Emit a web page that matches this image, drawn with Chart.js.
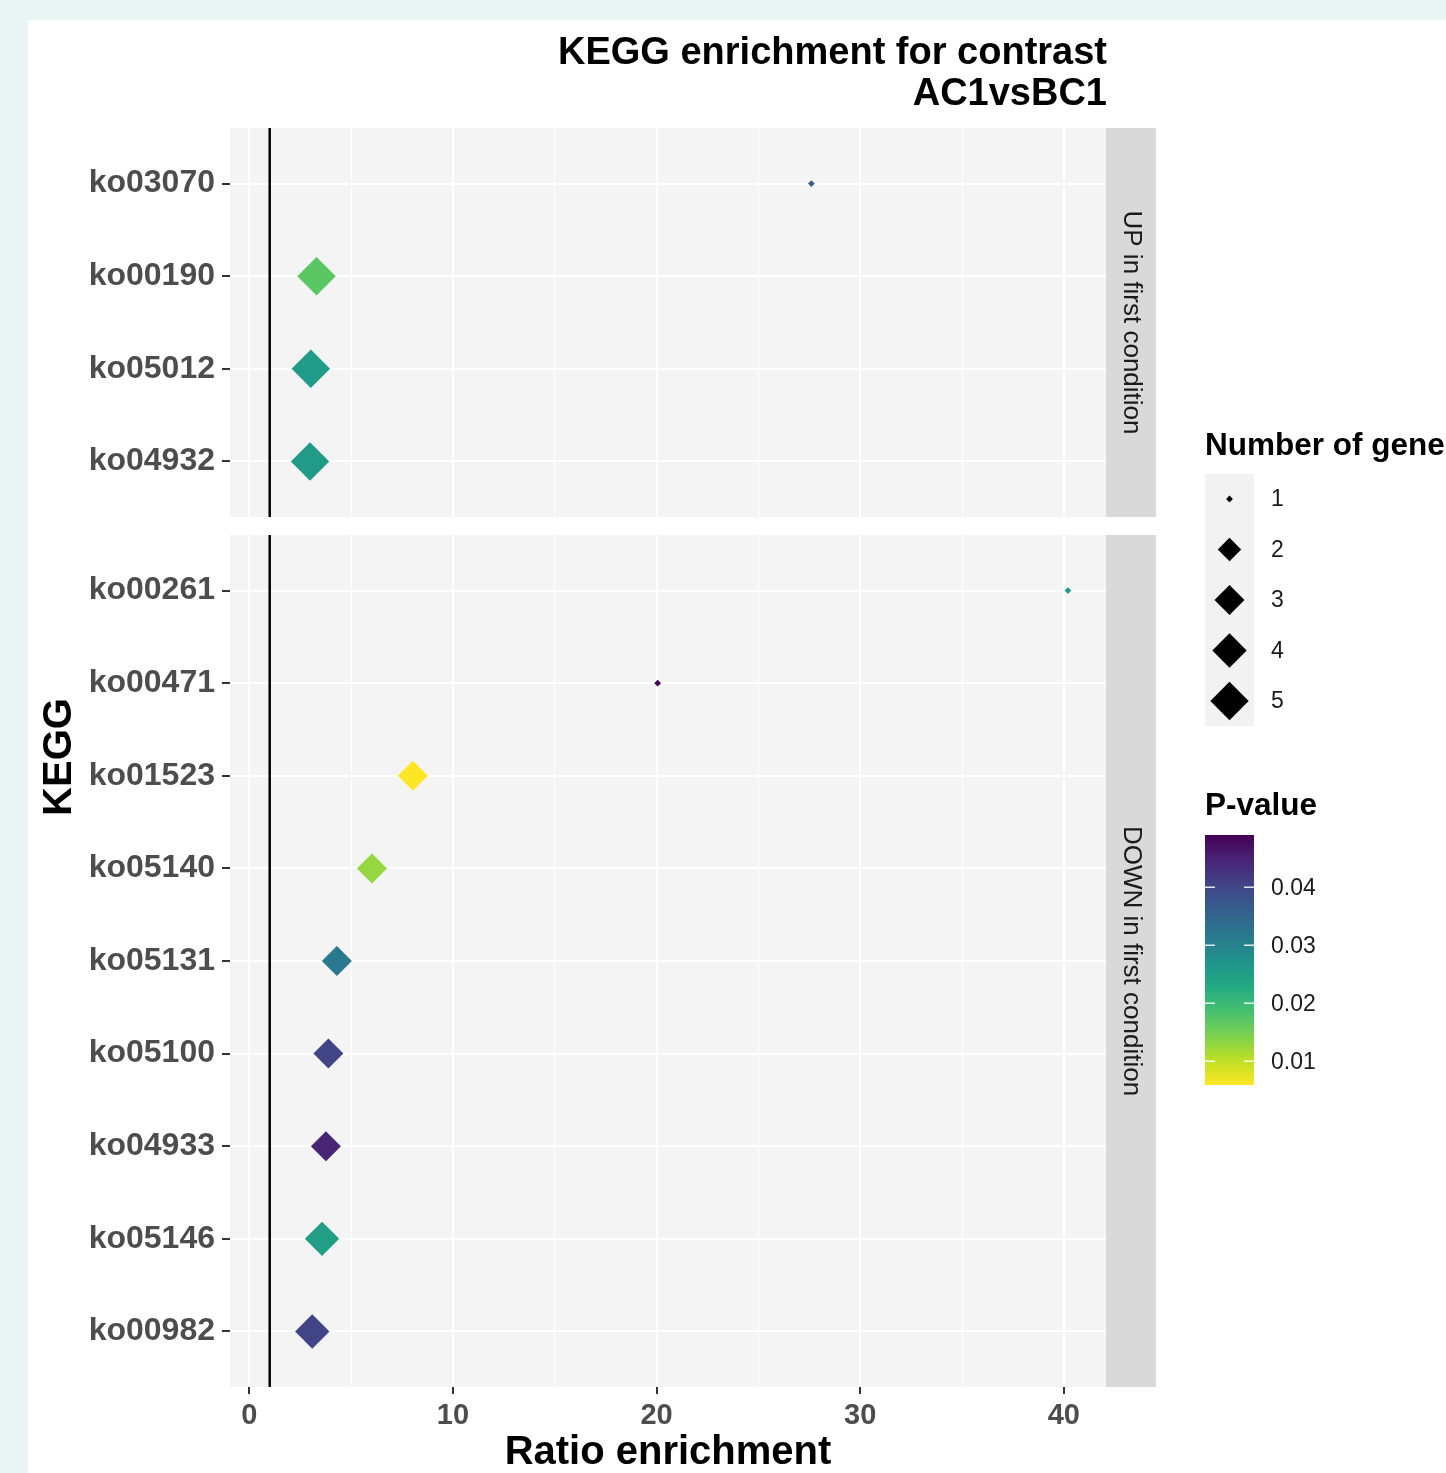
<!DOCTYPE html>
<html>
<head>
<meta charset="utf-8">
<title>KEGG enrichment for contrast AC1vsBC1</title>
<script src="https://cdn.jsdelivr.net/npm/chart.js@4.4.0/dist/chart.umd.min.js"></script>
<style>
  html, body { margin: 0; padding: 0; }
  body { width: 1446px; height: 1473px; background: #e9f5f5; position: relative; overflow: hidden; }
  #sheet { position: absolute; left: 28px; top: 20px; right: 0; bottom: 0; background: #ffffff; }
  canvas { position: absolute; left: 0; top: 0; }
  #downChart { z-index: 1; }
  #upChart { z-index: 2; }
</style>
</head>
<body>
<div id="sheet"></div>
<canvas id="downChart" width="1446" height="1473"></canvas>
<canvas id="upChart" width="1446" height="540"></canvas>
<script>
// --- data ---
const upTerms = ['ko03070', 'ko00190', 'ko05012', 'ko04932'];
const upRatio = [27.6, 3.3, 3.02, 2.98];
const upGenes = [1, 5, 5, 5];
const upPvalue = [0.036, 0.017, 0.0253, 0.0255];

const downTerms = ['ko00261', 'ko00471', 'ko01523', 'ko05140', 'ko05131', 'ko05100', 'ko04933', 'ko05146', 'ko00982'];
const downRatio = [40.2, 20.05, 8.03, 6.02, 4.3, 3.88, 3.76, 3.57, 3.09];
const downGenes = [1, 1, 3, 3, 3, 3, 3, 4, 4];
const downPvalue = [0.025, 0.049, 0.0059, 0.0128, 0.0318, 0.0404, 0.0447, 0.025, 0.0404];

const sizeLevels = [1, 2, 3, 4, 5];
const pvalueTicks = [0.01, 0.02, 0.03, 0.04];
const ratioGrid = [0, 5, 10, 15, 20, 25, 30, 35, 40];
const ratioTicks = [0, 10, 20, 30, 40];
const refRatio = 1;

const FONT = '"Liberation Sans", Arial, Helvetica, sans-serif';

// viridis colour map, purple -> yellow
const viridis = ['#440154', '#482475', '#414487', '#355f8d', '#2a788e', '#21918c',
                 '#22a884', '#44bf70', '#7ad151', '#bddf26', '#fde725'];

function hexRgb(h) {
  return [1, 3, 5].map(i => parseInt(h.slice(i, i + 2), 16));
}

function viridisAt(t) {
  t = Math.max(0, Math.min(1, t));
  const pos = t * (viridis.length - 1);
  const i = Math.min(viridis.length - 2, Math.floor(pos));
  const f = pos - i;
  const a = hexRgb(viridis[i]);
  const b = hexRgb(viridis[i + 1]);
  const c = a.map((v, k) => Math.round(v + (b[k] - v) * f));
  return `rgb(${c[0]}, ${c[1]}, ${c[2]})`;
}

const allP = upPvalue.concat(downPvalue);
const pMin = Math.min(...allP);
const pMax = Math.max(...allP);

// low p-value = yellow, high = purple
function pColor(p) {
  return viridisAt((pMax - p) / (pMax - pMin));
}

// diamond half-diagonal for each gene count
function geneRadius(n) {
  return [0, 3.4, 11.7, 15, 17.2, 19.2][n];
}

// grey panel, reference line and facet strip
const panelPlugin = {
  id: 'facetPanel',
  beforeDraw(chart) {
    const { ctx, chartArea: a } = chart;
    ctx.save();
    ctx.fillStyle = '#f4f4f4';
    ctx.fillRect(a.left, a.top, a.right - a.left, a.bottom - a.top);
    ctx.restore();
  },
  afterDatasetsDraw(chart, args, opts) {
    const { ctx, chartArea: a, scales } = chart;
    const px = scales.x.getPixelForValue(refRatio);
    ctx.save();
    ctx.strokeStyle = '#000000';
    ctx.lineWidth = 2.5;
    ctx.beginPath();
    ctx.moveTo(px, a.top);
    ctx.lineTo(px, a.bottom);
    ctx.stroke();

    ctx.fillStyle = '#d9d9d9';
    ctx.fillRect(a.right, a.top, 50, a.bottom - a.top);
    ctx.translate(a.right + 25, (a.top + a.bottom) / 2);
    ctx.rotate(Math.PI / 2);
    ctx.fillStyle = '#1a1a1a';
    ctx.font = `26px ${FONT}`;
    ctx.textAlign = 'center';
    ctx.textBaseline = 'middle';
    ctx.fillText(opts.label, 0, 0);
    ctx.restore();
  }
};

// title, shared y title and the two legends
const decorPlugin = {
  id: 'decor',
  afterDraw(chart) {
    const ctx = chart.ctx;
    ctx.save();
    ctx.fillStyle = '#000000';
    ctx.font = `bold 38px ${FONT}`;
    ctx.textAlign = 'right';
    ctx.textBaseline = 'alphabetic';
    ctx.fillText('KEGG enrichment for contrast', 1107, 64);
    ctx.fillText('AC1vsBC1', 1107, 105);

    ctx.save();
    ctx.translate(60, 757);
    ctx.rotate(-Math.PI / 2);
    ctx.textAlign = 'center';
    ctx.textBaseline = 'middle';
    ctx.font = `bold 40px ${FONT}`;
    ctx.fillText('KEGG', 0, 0);
    ctx.restore();

    // size legend
    ctx.textAlign = 'left';
    ctx.font = `bold 31.5px ${FONT}`;
    ctx.fillText('Number of genes', 1205, 455);
    ctx.fillStyle = '#f2f2f2';
    ctx.fillRect(1205, 474, 49, 252);
    ctx.font = `23px ${FONT}`;
    ctx.textBaseline = 'middle';
    sizeLevels.forEach((n, i) => {
      const cy = 499 + i * 50.5;
      const r = geneRadius(n);
      ctx.fillStyle = '#000000';
      ctx.beginPath();
      ctx.moveTo(1229.5 - r, cy);
      ctx.lineTo(1229.5, cy - r);
      ctx.lineTo(1229.5 + r, cy);
      ctx.lineTo(1229.5, cy + r);
      ctx.closePath();
      ctx.fill();
      ctx.fillStyle = '#1a1a1a';
      ctx.fillText(String(n), 1271, cy + 1);
    });

    // colour bar
    ctx.fillStyle = '#000000';
    ctx.textBaseline = 'alphabetic';
    ctx.font = `bold 31.5px ${FONT}`;
    ctx.fillText('P-value', 1205, 815);
    const barTop = 835, barH = 250;
    const grad = ctx.createLinearGradient(0, barTop, 0, barTop + barH);
    viridis.forEach((c, i) => grad.addColorStop(i / (viridis.length - 1), c));
    ctx.fillStyle = grad;
    ctx.fillRect(1205, barTop, 49, barH);
    ctx.strokeStyle = 'rgba(255,255,255,0.85)';
    ctx.lineWidth = 1.5;
    ctx.font = `23px ${FONT}`;
    ctx.textBaseline = 'middle';
    pvalueTicks.forEach(p => {
      const y = barTop + (pMax - p) / (pMax - pMin) * barH;
      ctx.beginPath();
      ctx.moveTo(1205, y); ctx.lineTo(1215, y);
      ctx.moveTo(1244, y); ctx.lineTo(1254, y);
      ctx.stroke();
      ctx.fillStyle = '#1a1a1a';
      ctx.fillText(p.toFixed(2), 1271, y + 1);
    });
    ctx.restore();
  }
};

function panelChart(id, terms, ratio, genes, pvals, label, showX, pad, extra) {
  return new Chart(document.getElementById(id), {
    type: 'scatter',
    data: {
      datasets: [{
        data: ratio.map((r, i) => ({ x: r, y: i })),
        pointStyle: 'rectRot',
        pointRadius: genes.map(geneRadius),
        pointBackgroundColor: pvals.map(pColor),
        pointBorderWidth: 0,
        clip: false
      }]
    },
    options: {
      responsive: false,
      animation: false,
      events: [],
      layout: { padding: pad },
      plugins: {
        legend: { display: false },
        tooltip: { enabled: false },
        facetPanel: { label }
      },
      scales: {
        x: {
          type: 'linear',
          min: -0.95,
          max: 42.07,
          afterBuildTicks: s => { s.ticks = ratioGrid.map(v => ({ value: v })); },
          ticks: {
            display: showX,
            autoSkip: false,
            maxRotation: 0,
            padding: 5,
            color: '#4d4d4d',
            font: { family: FONT, size: 29, weight: 'bold' },
            callback: v => ratioTicks.includes(v) ? String(v) : ''
          },
          grid: {
            color: '#ffffff',
            lineWidth: c => ratioTicks.includes(c.tick.value) ? 2 : 1,
            drawTicks: showX,
            tickLength: 7,
            tickWidth: 2,
            tickColor: c => ratioTicks.includes(c.tick.value) ? '#333333' : 'rgba(0,0,0,0)'
          },
          border: { display: false },
          title: {
            display: showX,
            text: 'Ratio enrichment',
            color: '#000000',
            font: { family: FONT, size: 40, weight: 'bold', lineHeight: 1 },
            padding: { top: 0, bottom: 0 }
          },
          afterFit: s => {
            s.height = showX ? 86 : 0;
            s.paddingLeft = 0;
            s.paddingRight = 0;
          }
        },
        y: {
          type: 'linear',
          reverse: true,
          min: -0.6,
          max: terms.length - 0.4,
          afterBuildTicks: s => { s.ticks = terms.map((t, i) => ({ value: i })); },
          ticks: {
            autoSkip: false,
            padding: 7,
            color: '#4d4d4d',
            font: { family: FONT, size: 32, weight: 'bold' },
            callback: v => terms[v]
          },
          grid: {
            color: '#ffffff',
            lineWidth: 2,
            tickLength: 8,
            tickWidth: 2,
            tickColor: '#333333'
          },
          border: { display: false },
          afterFit: s => {
            s.width = 230;
            s.paddingTop = 0;
            s.paddingBottom = 0;
          }
        }
      }
    },
    plugins: [panelPlugin].concat(extra)
  });
}

panelChart('downChart', downTerms, downRatio, downGenes, downPvalue,
  'DOWN in first condition', true, { top: 535, right: 340, left: 0, bottom: 0 }, [decorPlugin]);
panelChart('upChart', upTerms, upRatio, upGenes, upPvalue,
  'UP in first condition', false, { top: 128, right: 340, left: 0, bottom: 23 }, []);
</script>
</body>
</html>
